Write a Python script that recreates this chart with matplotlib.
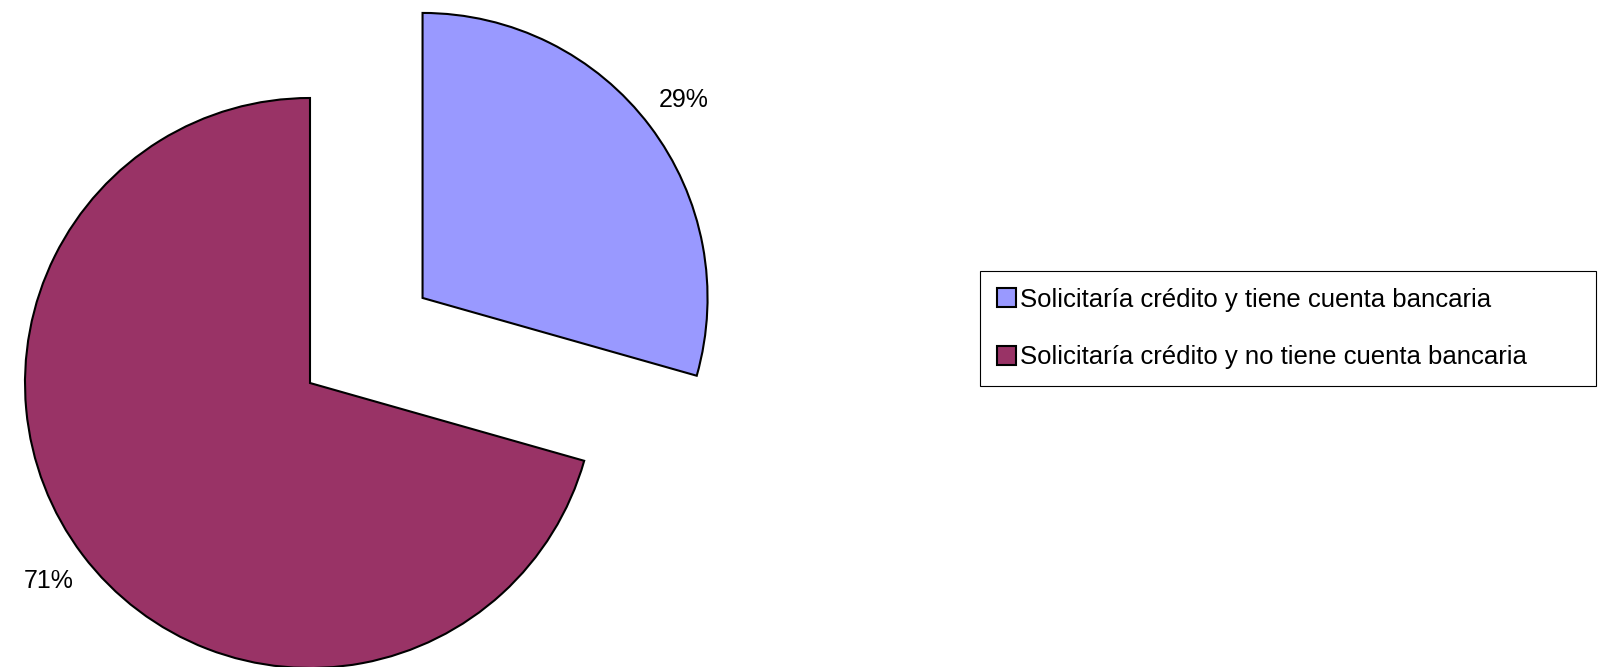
import numpy as np
import matplotlib.pyplot as plt

# datos del gráfico
etiquetas = ["Solicitaría crédito y tiene cuenta bancaria",
             "Solicitaría crédito y no tiene cuenta bancaria"]
valores = [29.4, 70.6]
colores = ["#9999FF", "#993366"]

plt.rcParams['font.family'] = ['Liberation Sans', 'DejaVu Sans']

W, H = 1602, 667
fig = plt.figure(figsize=(W / 100, H / 100), dpi=100)
ax = fig.add_axes([0, 0, 1, 1])

# centro del pastel y radio en pixeles
cx, cy, R = 310, 284, 285

wedges, textos, pcts = ax.pie(valores, colors=colores, startangle=90, counterclock=False,
                              explode=[0.495, 0], autopct='%1.0f%%', pctdistance=1.15,
                              wedgeprops=dict(edgecolor='black', linewidth=1.5),
                              textprops=dict(fontsize=18, color='black'))

ax.set_xlim(-cx / R, (W - cx) / R)
ax.set_ylim(-cy / R, (H - cy) / R)
ax.set_aspect('equal')
ax.axis('off')

leg = fig.legend(wedges, etiquetas, loc='upper left',
                 bbox_to_anchor=(980 / W, 1 - 271 / H - 0.01, 616 / W, 0.01), mode='expand',
                 fancybox=False, edgecolor='black', framealpha=1, fontsize=18.5,
                 handlelength=0.75, handleheight=0.75, handletextpad=0.15,
                 labelspacing=1.3, borderpad=0.65, borderaxespad=0)
leg.get_frame().set_linewidth(0.8)
for h in leg.legend_handles:
    h.set_linewidth(1.5)

fig.savefig('out.png', dpi=100)
